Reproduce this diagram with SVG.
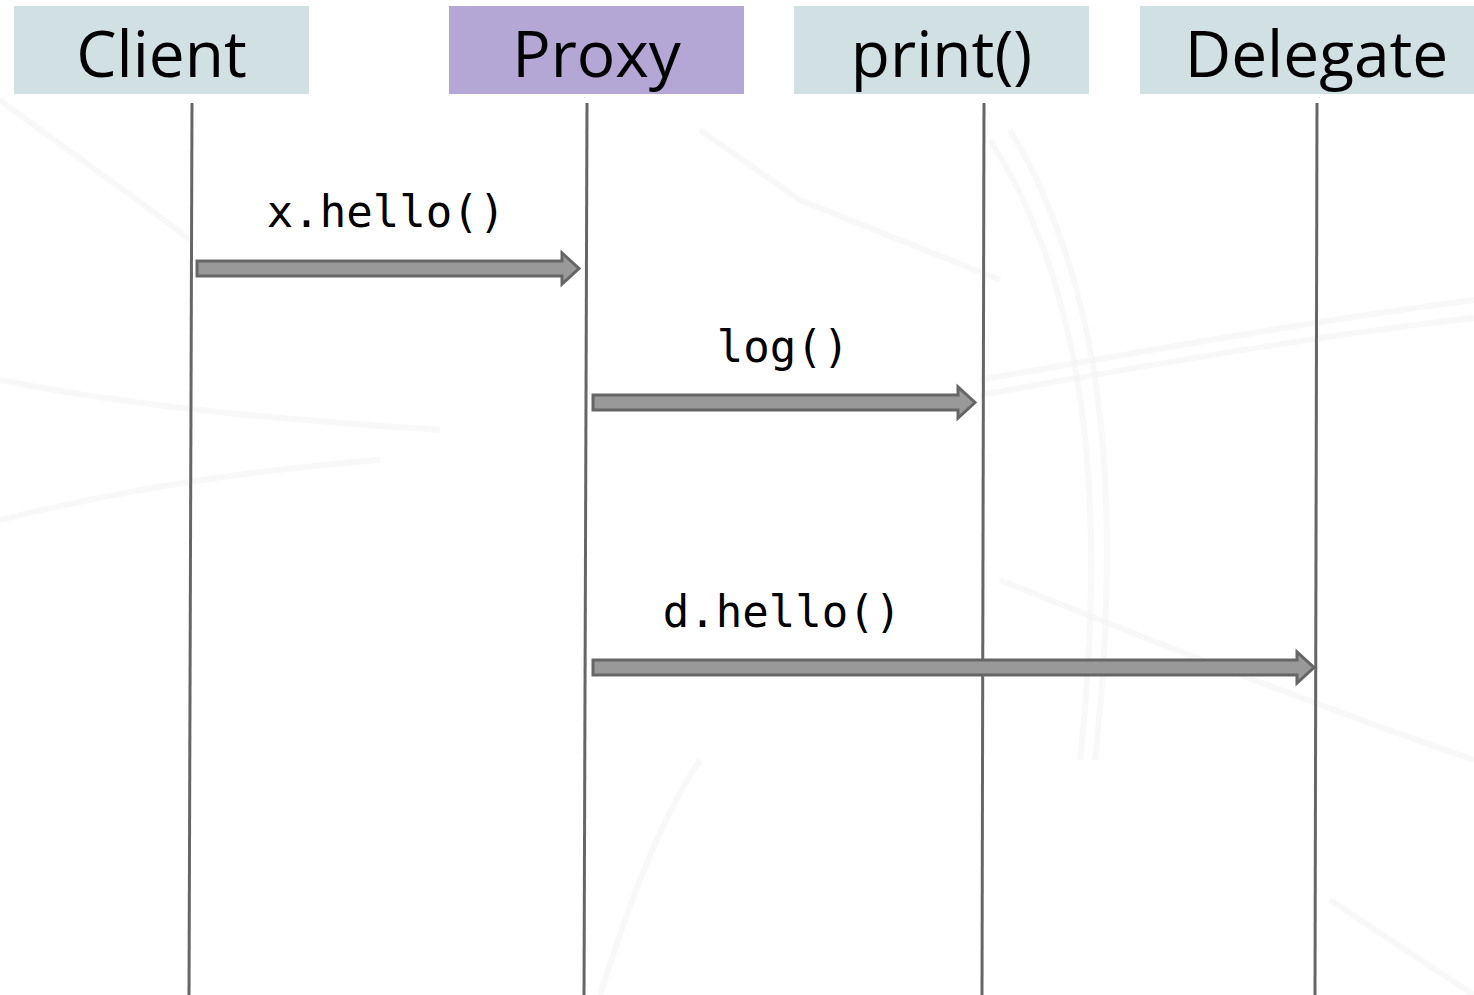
<svg xmlns="http://www.w3.org/2000/svg" width="1474" height="995" viewBox="0 0 1474 995">
  <style>
    .head { font-family: "Open Sans", "Liberation Sans", sans-serif; font-size: 64px; fill: #000; text-anchor: middle; }
    .msg { font-family: "DejaVu Sans Mono", "Liberation Mono", monospace; font-size: 44px; fill: #000; text-anchor: middle; }
    .life { stroke: #666; stroke-width: 3; fill: none; }
    .arrow { fill: #999; stroke: #666; stroke-width: 3; stroke-linejoin: miter; }
    .swirl { fill: none; stroke: #f3f3f3; stroke-width: 6; opacity: 0.6; }
  </style>

  <!-- page background with faint decorative sweeps -->
  <rect width="1474" height="995" fill="#ffffff"/>
  <g id="backdrop">
    <path class="swirl" d="M990 140 C1080 280 1110 480 1080 760"/>
    <path class="swirl" d="M1010 130 C1100 280 1125 480 1095 760"/>
    <path class="swirl" d="M980 380 C1150 350 1320 320 1474 300"/>
    <path class="swirl" d="M980 395 C1150 365 1320 335 1474 318"/>
    <path class="swirl" d="M0 380 C150 410 300 420 440 430"/>
    <path class="swirl" d="M0 520 C120 490 250 470 380 460"/>
    <path class="swirl" d="M1000 580 C1150 640 1300 700 1474 760"/>
    <path class="swirl" d="M1330 900 L1474 995"/>
    <path class="swirl" d="M700 130 L800 200 L1000 280"/>
    <path class="swirl" d="M0 100 C80 160 140 200 190 240"/>
    <path class="swirl" d="M600 995 C630 900 660 820 700 760"/>
  </g>

  <!-- participant headers -->
  <g id="client">
    <rect x="14" y="6" width="295" height="88" fill="#d0e0e3"/>
    <text class="head" x="161.5" y="77">Client</text>
  </g>
  <g id="proxy">
    <rect x="449" y="6" width="295" height="88" fill="#b4a7d6"/>
    <text class="head" x="596.5" y="77">Proxy</text>
  </g>
  <g id="print">
    <rect x="794" y="6" width="295" height="88" fill="#d0e0e3"/>
    <text class="head" x="941.5" y="77">print()</text>
  </g>
  <g id="delegate">
    <rect x="1140" y="6" width="354" height="88" fill="#d0e0e3"/>
    <text class="head" x="1316.5" y="77">Delegate</text>
  </g>

  <!-- lifelines and message arrows -->
  <g id="connectors">
    <line class="life" x1="192" y1="103" x2="189" y2="995"/>
    <line class="life" x1="587" y1="103" x2="584" y2="995"/>
    <line class="life" x1="984" y1="103" x2="982" y2="995"/>
    <line class="life" x1="1317" y1="103" x2="1315" y2="995"/>

    <text class="msg" x="386" y="227">x.hello()</text>
    <path class="arrow" d="M197 261 L562 261 L562 253 L579 268.5 L562 284 L562 276 L197 276 Z"/>

    <text class="msg" x="783" y="362">log()</text>
    <path class="arrow" d="M593 395 L958 395 L958 387 L975 402.5 L958 418 L958 410 L593 410 Z"/>

    <text class="msg" x="782" y="627">d.hello()</text>
    <path class="arrow" d="M593 660 L1297 660 L1297 652 L1314 667.5 L1297 683 L1297 675 L593 675 Z"/>
  </g>
</svg>
